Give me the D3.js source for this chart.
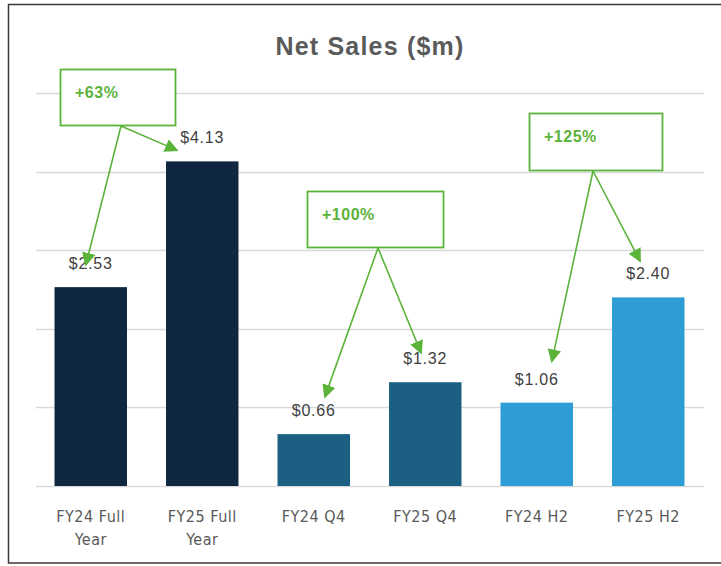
<!DOCTYPE html>
<html>
<head>
<meta charset="utf-8">
<script src="https://cdn.jsdelivr.net/npm/d3@7"></script>
<style>
  body { margin: 0; background: #fff; }
  svg { display: block; }
</style>
</head>
<body>
<svg id="chart"></svg>
<script>
// chart data
var categories = ["FY24 Full Year", "FY25 Full Year", "FY24 Q4", "FY25 Q4", "FY24 H2", "FY25 H2"];
var netSales = [2.53, 4.13, 0.66, 1.32, 1.06, 2.40];
var barColors = ["#0f2740", "#0f2740", "#1b5f82", "#1b5f82", "#2e9dd5", "#2e9dd5"];
var yTicks = [0, 1, 2, 3, 4, 5];

// growth callouts: label, the two bars compared, box layout
var growthLabels = ["+63%", "+100%", "+125%"];
var growthPairs = [["FY24 Full Year", "FY25 Full Year"], ["FY24 Q4", "FY25 Q4"], ["FY24 H2", "FY25 H2"]];
var growthBoxes = [
  {x: 60, y: 69, w: 115, h: 56, ox: 61},
  {x: 307, y: 191, w: 136, h: 56, ox: 71},
  {x: 529, y: 113, w: 133, h: 57, ox: 64}
];
// where each arrowhead sits, relative to the top of its bar
var tipOffsets = [
  [[-5, -22], [-25, -11]],
  [[11, -37], [-4, -29]],
  [[15, -41], [-8, -36]]
];

var width = 721, height = 566;
var svg = d3.select("#chart").attr("width", width).attr("height", height);

// frame
svg.append("rect")
  .attr("x", 8.5).attr("y", 4.5)
  .attr("width", 730).attr("height", 558.5)
  .attr("fill", "#fff")
  .attr("stroke", "#3a3a3a")
  .attr("stroke-width", 1.5);

var x = d3.scaleBand()
  .domain(categories)
  .range([35, 704])
  .paddingInner(0.35)
  .paddingOuter(0.175);

var y = d3.scaleLinear()
  .domain([0, 5])
  .range([486, 93]);

// title
svg.append("text")
  .attr("x", 370).attr("y", 55)
  .attr("text-anchor", "middle")
  .style("font-family", "'Liberation Sans', Arial, sans-serif")
  .style("font-weight", "bold")
  .style("font-size", "25px")
  .style("letter-spacing", "1.2px")
  .style("fill", "#5a5a5a")
  .text("Net Sales ($m)");

// gridlines
svg.append("g")
  .selectAll("line")
  .data(yTicks)
  .enter().append("line")
  .attr("x1", 36).attr("x2", 704)
  .attr("y1", function(d) { return Math.round(y(d)) + 0.5; })
  .attr("y2", function(d) { return Math.round(y(d)) + 0.5; })
  .attr("stroke", "#d9d9d9")
  .attr("stroke-width", 1.3);

// bars
svg.append("g")
  .selectAll("rect")
  .data(netSales)
  .enter().append("rect")
  .attr("x", function(d, i) { return x(categories[i]); })
  .attr("y", function(d) { return y(d); })
  .attr("width", x.bandwidth())
  .attr("height", function(d) { return y(0) - y(d); })
  .attr("fill", function(d, i) { return barColors[i]; });

// value labels
svg.append("g")
  .selectAll("text")
  .data(netSales)
  .enter().append("text")
  .attr("x", function(d, i) { return x(categories[i]) + x.bandwidth() / 2; })
  .attr("y", function(d) { return y(d) - 18; })
  .attr("text-anchor", "middle")
  .style("font-family", "'Liberation Sans', Arial, sans-serif")
  .style("font-size", "16px")
  .style("letter-spacing", "0.8px")
  .style("fill", "#404040")
  .text(function(d) { return "$" + d.toFixed(2); });

// x axis
var xAxis = d3.axisBottom(x).tickSize(0).tickPadding(0);
var gx = svg.append("g")
  .attr("transform", "translate(0," + y(0) + ")")
  .call(xAxis);
gx.select(".domain").remove();
gx.selectAll("text")
  .style("font-family", "'Liberation Sans Narrow', 'DejaVu Sans Condensed', Arial, sans-serif")
  .style("font-size", "16px")
  .style("letter-spacing", "0.5px")
  .style("fill", "#595959")
  .attr("y", 36)
  .attr("dy", null)
  .call(wrap, 80);

function wrap(texts, maxW) {
  texts.each(function() {
    var t = d3.select(this),
        words = t.text().split(/\s+/),
        line = [],
        lineNo = 0,
        yy = +t.attr("y"),
        tspan = t.text(null).append("tspan").attr("x", 0).attr("y", yy);
    words.forEach(function(w) {
      line.push(w);
      tspan.text(line.join(" "));
      if (tspan.node().getComputedTextLength() > maxW && line.length > 1) {
        line.pop();
        tspan.text(line.join(" "));
        line = [w];
        lineNo++;
        tspan = t.append("tspan").attr("x", 0).attr("y", yy + lineNo * 23).text(w);
      }
    });
  });
}

// arrowhead
svg.append("defs").append("marker")
  .attr("id", "arrow")
  .attr("viewBox", "0 0 10 10")
  .attr("refX", 9).attr("refY", 5)
  .attr("markerWidth", 8.5).attr("markerHeight", 8.5)
  .attr("markerUnits", "strokeWidth")
  .attr("orient", "auto")
  .append("path")
  .attr("d", "M0,0 L10,5 L0,10 z")
  .attr("fill", "#5bb33a");

// growth callouts
growthLabels.forEach(function(lbl, i) {
  var b = growthBoxes[i];
  var g = svg.append("g");
  var ox = b.x + b.ox, oy = b.y + b.h + 1;

  growthPairs[i].forEach(function(cat, j) {
    var k = categories.indexOf(cat);
    var tx = x(cat) + x.bandwidth() / 2 + tipOffsets[i][j][0];
    var ty = y(netSales[k]) + tipOffsets[i][j][1];
    g.append("line")
      .attr("x1", ox).attr("y1", oy)
      .attr("x2", tx).attr("y2", ty)
      .attr("stroke", "#5bb33a")
      .attr("stroke-width", 1.6)
      .attr("marker-end", "url(#arrow)");
  });

  g.append("rect")
    .attr("x", b.x + 0.5).attr("y", b.y + 0.5)
    .attr("width", b.w).attr("height", b.h)
    .attr("fill", "#fff")
    .attr("stroke", "#5bb33a")
    .attr("stroke-width", 1.8);

  g.append("text")
    .attr("x", b.x + 15).attr("y", b.y + 29)
    .style("font-family", "'Liberation Sans', Arial, sans-serif")
    .style("font-size", "16px")
    .style("font-weight", "bold")
    .style("letter-spacing", "0.5px")
    .style("fill", "#5bb33a")
    .text(lbl);
});
</script>
</body>
</html>
